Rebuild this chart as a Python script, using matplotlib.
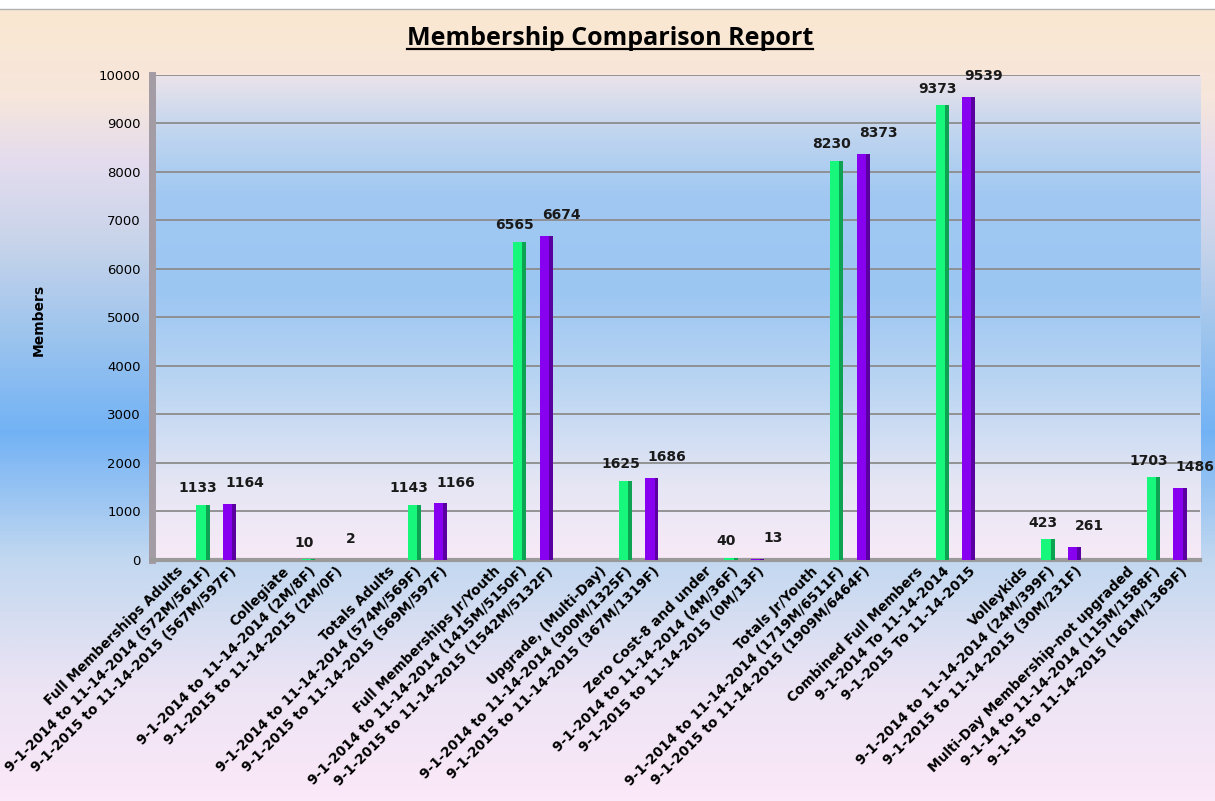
import matplotlib

matplotlib.use("Agg")
import matplotlib.pyplot as plt
import numpy as np
from matplotlib.colors import LinearSegmentedColormap
from matplotlib.lines import Line2D

groups = [
    "Full Memberships Adults",
    "Collegiate",
    "Totals Adults",
    "Full Memberships Jr/Youth",
    "Upgrade, (Multi-Day)",
    "Zero Cost-8 and under",
    "Totals Jr/Youth",
    "Combined Full Members",
    "Volleykids",
    "Multi-Day Membership-not upgraded",
]
ranges_2014 = [
    "9-1-2014 to 11-14-2014 (572M/561F)",
    "9-1-2014 to 11-14-2014 (2M/8F)",
    "9-1-2014 to 11-14-2014 (574M/569F)",
    "9-1-2014 to 11-14-2014 (1415M/5150F)",
    "9-1-2014 to 11-14-2014 (300M/1325F)",
    "9-1-2014 to 11-14-2014 (4M/36F)",
    "9-1-2014 to 11-14-2014 (1719M/6511F)",
    "9-1-2014 To 11-14-2014",
    "9-1-2014 to 11-14-2014 (24M/399F)",
    "9-1-14 to 11-14-2014 (115M/1588F)",
]
ranges_2015 = [
    "9-1-2015 to 11-14-2015 (567M/597F)",
    "9-1-2015 to 11-14-2015 (2M/0F)",
    "9-1-2015 to 11-14-2015 (569M/597F)",
    "9-1-2015 to 11-14-2015 (1542M/5132F)",
    "9-1-2015 to 11-14-2015 (367M/1319F)",
    "9-1-2015 to 11-14-2015 (0M/13F)",
    "9-1-2015 to 11-14-2015 (1909M/6464F)",
    "9-1-2015 To 11-14-2015",
    "9-1-2015 to 11-14-2015 (30M/231F)",
    "9-1-15 to 11-14-2015 (161M/1369F)",
]
members_2014 = [1133, 10, 1143, 6565, 1625, 40, 8230, 9373, 423, 1703]
members_2015 = [1164, 2, 1166, 6674, 1686, 13, 8373, 9539, 261, 1486]
y_ticks = list(range(0, 10001, 1000))

GREEN, GREEN_DARK = "#16f77c", "#0ea352"
PURPLE, PURPLE_DARK = "#8800f0", "#5a00a0"


def gradient(ax, stops, extent, zorder):
    cmap = LinearSegmentedColormap.from_list("bg", stops)
    grad = np.linspace(0, 1, 256).reshape(-1, 1)
    ax.imshow(grad, cmap=cmap, aspect="auto", extent=extent, origin="lower",
              zorder=zorder, interpolation="bicubic")


fig = plt.figure(figsize=(12.15, 8.01), dpi=100)

# chart area background (bottom -> top)
bg = fig.add_axes([0, 0, 1, 1], zorder=0)
gradient(bg, [
    (0.00, "#fbe8f8"),
    (0.14, "#ece4f4"),
    (0.30, "#c2d8f0"),
    (0.46, "#72b2f5"),
    (0.58, "#9cc4ee"),
    (0.70, "#c8d4ea"),
    (0.80, "#e4dcee"),
    (0.88, "#f6e6dc"),
    (1.00, "#fbe8d0"),
], (0, 1, 0, 1), 0)
bg.set_xlim(0, 1)
bg.set_ylim(0, 1)
bg.axis("off")
bg.axhspan(0.989, 1.0, color="white", zorder=2)
bg.axhline(0.989, color="#b0b0b0", linewidth=1, zorder=3)

ax = fig.add_axes([0.1251, 0.3009, 0.8626, 0.6055], zorder=1)
ax.set_xlim(-0.93, 38.76)
ax.set_ylim(0, 10000)

# plot wall
gradient(ax, [
    (0.00, "#f8eaf7"),
    (0.15, "#e6e6f4"),
    (0.35, "#bcd6f2"),
    (0.55, "#9cc6f3"),
    (0.75, "#a0c8f2"),
    (0.88, "#c0d5ef"),
    (1.00, "#ebe3ea"),
], (-0.93, 38.76, 0, 10000), 0)

for y in y_ticks[1:]:
    ax.axhline(y, color="#8c8c8c", linewidth=1.3, zorder=1)

n = len(groups)
x14 = np.arange(n) * 4 + 1
x15 = np.arange(n) * 4 + 2
width = 0.5
shade = 0.15

ax.bar(x14, members_2014, width=width, color=GREEN, zorder=3)
ax.bar(x14 + (width - shade) / 2, members_2014, width=shade, color=GREEN_DARK, zorder=4)
ax.bar(x15, members_2015, width=width, color=PURPLE, zorder=3)
ax.bar(x15 + (width - shade) / 2, members_2015, width=shade, color=PURPLE_DARK, zorder=4)

for x, v in zip(x14, members_2014):
    ax.annotate(str(v), (x, v), xytext=(-3.5, 7), textcoords="offset points",
                ha="center", va="bottom", fontsize=10, fontweight="bold",
                color="#1a1a1a", zorder=5)
for x, v in zip(x15, members_2015):
    ax.annotate(str(v), (x, v), xytext=(11, 10), textcoords="offset points",
                ha="center", va="bottom", fontsize=10, fontweight="bold",
                color="#1a1a1a", zorder=5)

tick_pos = []
tick_labels = []
for i in range(n):
    tick_pos += [4 * i, 4 * i + 1, 4 * i + 2]
    tick_labels += [groups[i], ranges_2014[i], ranges_2015[i]]
ax.set_xticks(tick_pos)
ax.set_xticklabels(tick_labels, rotation=45, ha="right", va="top",
                   rotation_mode="anchor", fontsize=9.8, fontweight="bold")
ax.set_yticks(y_ticks)
ax.set_yticklabels([str(t) for t in y_ticks], fontsize=9.5)
ax.tick_params(axis="both", length=0)
ax.tick_params(axis="y", pad=8)
ax.tick_params(axis="x", pad=3)

for side in ("top", "right"):
    ax.spines[side].set_visible(False)
ax.spines["left"].set_color("#a49ca4")
ax.spines["left"].set_linewidth(5)
ax.spines["bottom"].set_color("#9a9a9a")
ax.spines["bottom"].set_linewidth(3)

fig.text(0.032, 0.60, "Members", rotation=90, ha="center", va="center",
         fontsize=10, fontweight="bold")

title = fig.text(0.502, 0.952, "Membership Comparison Report", ha="center",
                 va="center", fontsize=18, fontweight="bold",
                 family=["Open Sans", "DejaVu Sans"])
fig.canvas.draw()
box = title.get_window_extent().transformed(fig.transFigure.inverted())
fig.add_artist(Line2D([box.x0, box.x1], [box.y0 + 0.002, box.y0 + 0.002],
                      transform=fig.transFigure, color="black", linewidth=1.6))

fig.savefig("out.png", dpi=100)
plt.close(fig)
